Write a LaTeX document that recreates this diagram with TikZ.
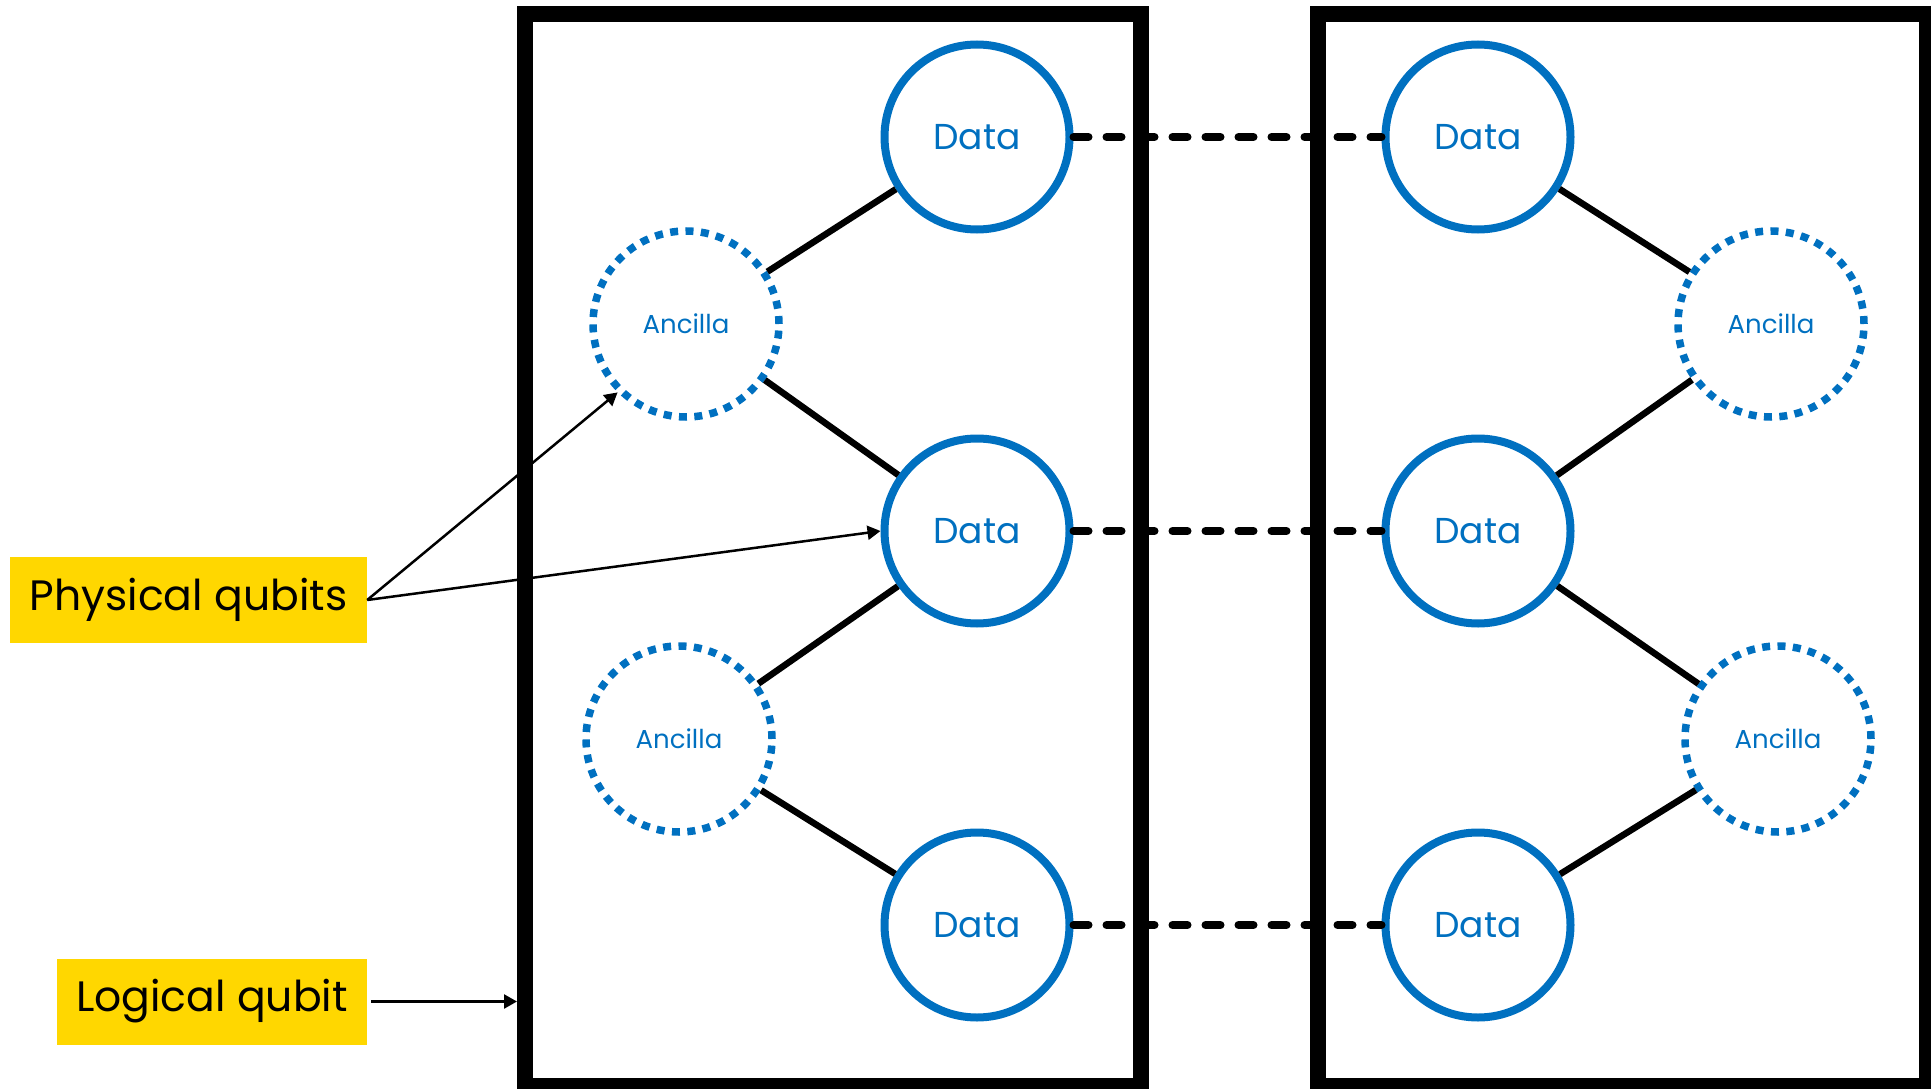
\documentclass[tikz,border=0pt]{standalone}
\usepackage{fontspec}
\setmainfont{Poppins}
\usetikzlibrary{arrows.meta}
\definecolor{qblue}{HTML}{0070C0}
\definecolor{qgold}{HTML}{FFD700}
\begin{document}
\begin{tikzpicture}[x=1pt,y=-1pt,
  datanode/.style={circle, draw=qblue, line width=8pt, minimum size=185pt, inner sep=0pt,
    text=qblue, font=\fontsize{36}{40}\selectfont},
  ancnode/.style={circle, draw=qblue, line width=7.5pt, dash pattern=on 8pt off 7.4pt,
    minimum size=186pt, inner sep=0pt, text=qblue, font=\fontsize{26}{30}\selectfont},
  labelbox/.style={fill=qgold, inner sep=0pt, minimum height=86pt, font=\fontsize{42.5}{48}\selectfont},
  logicalbox/.style={draw=black, line width=16pt, minimum height=1071pt, inner sep=0pt},
  coupling/.style={draw=black, line width=6.5pt},
  link/.style={draw=black, line width=8pt, line cap=round, dash pattern=on 15pt off 18pt},
  pointer/.style={draw=black, line width=2.5pt, -{Triangle[length=13pt,width=14pt]}}
]
\useasboundingbox (0,0) rectangle (1931,1089);
% logical qubit boxes
\node[logicalbox, minimum width=616pt] (lq1) at (833,550) {};
\node[logicalbox, minimum width=609pt] (lq2) at (1622.5,550) {};
% left qubits
\node[datanode] (d1) at (977,137) {Data};
\node[datanode] (d2) at (977,531) {Data};
\node[datanode] (d3) at (977,925) {Data};
\node[ancnode] (a1) at (686,324) {Ancilla};
\node[ancnode] (a2) at (679,739) {Ancilla};
% right qubits
\node[datanode] (r1) at (1478,137) {Data};
\node[datanode] (r2) at (1478,531) {Data};
\node[datanode] (r3) at (1478,925) {Data};
\node[ancnode] (ra1) at (1771,324) {Ancilla};
\node[ancnode] (ra2) at (1778,739) {Ancilla};
% couplings
\draw[coupling] (a1) -- (d1);
\draw[coupling] (a1) -- (d2);
\draw[coupling] (a2) -- (d2);
\draw[coupling] (a2) -- (d3);
\draw[coupling] (r1) -- (ra1);
\draw[coupling] (r2) -- (ra1);
\draw[coupling] (r2) -- (ra2);
\draw[coupling] (r3) -- (ra2);
% links between logical qubits
\draw[link] (d1) -- (r1);
\draw[link] (d2) -- (r2);
\draw[link] (d3) -- (r3);
% labels
\node[labelbox, minimum width=357pt] (phys) at (188.5,600) {Physical qubits};
\node[labelbox, minimum width=310pt] (logi) at (212,1001.5) {Logical qubit};
\draw[pointer] (phys.east) -- (a1.225);
\draw[pointer] (phys.east) -- (d2.west);
\draw[pointer] ([xshift=4pt]logi.east) -- (logi.east -| lq1.west);
\end{tikzpicture}
\end{document}
